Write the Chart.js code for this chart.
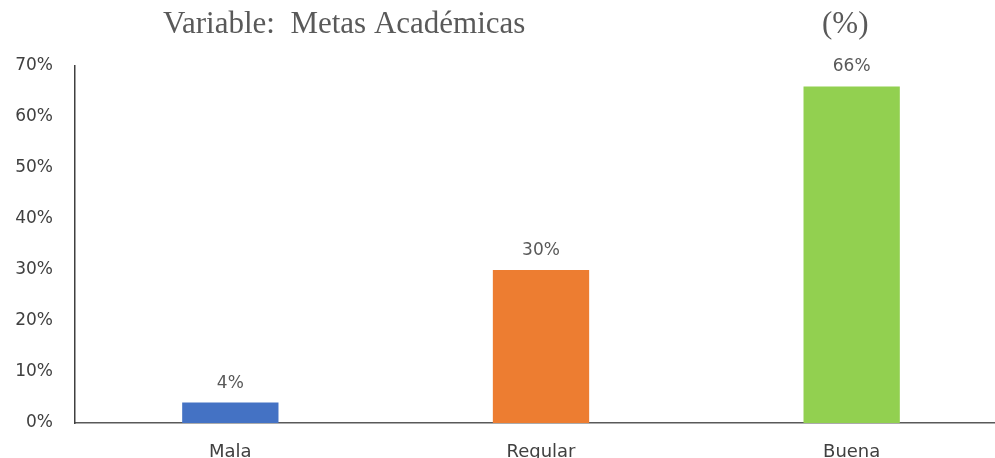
<!DOCTYPE html>
<html>
<head>
<meta charset="utf-8">
<script src="https://cdn.jsdelivr.net/npm/chart.js@4"></script>
<style>
  html, body { margin: 0; padding: 0; background: #fff; overflow: hidden; }
  #wrap { width: 1010px; height: 458px; position: relative; }
</style>
</head>
<body>
<div id="wrap"><canvas id="myChart"></canvas></div>
<script>
const categories = ['Mala', 'Regular', 'Buena'];
const values = [4, 30, 66];
const barColors = ['#4472C4', '#ED7D31', '#92D050'];
const yTicks = [0, 10, 20, 30, 40, 50, 60, 70];

// title text drawn in two pieces like the original
const titlePlugin = {
    id: 'titleText',
    afterDraw(chart) {
        const c = chart.ctx;
        c.save();
        c.fillStyle = '#595959';
        c.font = '31px "Liberation Serif", "Times New Roman", serif';
        c.textBaseline = 'alphabetic';
        c.textAlign = 'left';
        c.fillText('Variable:  Metas Académicas', 163, 33);
        c.fillText('(%)', 822, 33);
        c.restore();
    }
};

// value labels above the bars
const valueLabels = {
    id: 'valueLabels',
    afterDatasetsDraw(chart) {
        const c = chart.ctx;
        const meta = chart.getDatasetMeta(0);
        c.save();
        c.fillStyle = '#595959';
        c.font = '17px "DejaVu Sans", Verdana, sans-serif';
        c.textAlign = 'center';
        c.textBaseline = 'bottom';
        meta.data.forEach((bar, i) => {
            c.fillText(values[i] + '%', bar.x, bar.y - 11);
        });
        c.restore();
    }
};

const ctx = document.getElementById('myChart').getContext('2d');
const myChart = new Chart(ctx, {
    type: 'bar',
    data: {
        labels: categories,
        datasets: [{
            data: values,
            backgroundColor: barColors,
            borderWidth: 0,
            categoryPercentage: 1,
            barPercentage: 0.31
        }]
    },
    options: {
        responsive: true,
        maintainAspectRatio: false,
        animation: false,
        layout: { padding: { top: 66, right: 3, left: 0, bottom: 0 } },
        plugins: {
            legend: { display: false },
            tooltip: { enabled: false }
        },
        scales: {
            x: {
                afterFit(scale) { scale.height = 35; },
                grid: { display: false, drawTicks: false },
                border: { color: '#595959', width: 1.5 },
                ticks: {
                    color: '#404040',
                    padding: 19,
                    font: { family: '"DejaVu Sans", Verdana, sans-serif', size: 18 }
                }
            },
            y: {
                min: 0,
                max: 70,
                afterFit(scale) { scale.width = 75; },
                afterBuildTicks(scale) { scale.ticks = yTicks.map(v => ({ value: v })); },
                grid: { display: false, drawTicks: false },
                border: { color: '#404040', width: 1.5 },
                ticks: {
                    color: '#404040',
                    padding: 22,
                    font: { family: '"DejaVu Sans", Verdana, sans-serif', size: 17 },
                    callback: v => v + '%'
                }
            }
        }
    },
    plugins: [titlePlugin, valueLabels]
});
</script>
</body>
</html>
